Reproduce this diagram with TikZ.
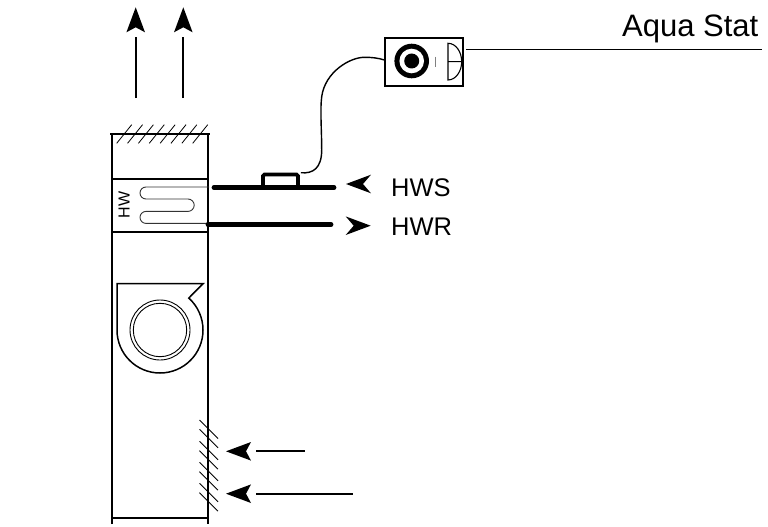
\documentclass[tikz,border=0pt]{standalone}
\usepackage{fontspec}
\setmainfont{Liberation Sans}
\tikzset{
  wall/.style={line width=1.6pt,black},
  hatch/.style={line width=0.8pt,black},
  pipe/.style={line width=4.8pt,black,line cap=round},
  flow/.style={line width=1.8pt,black},
  label/.style={inner sep=0pt,anchor=base west},
  head/.pic={\fill (0,0) -- (25,-9.3) -- (#1,0) -- (25,9.3) -- cycle;},
}
\begin{document}
\begin{tikzpicture}[x=1pt,y=-1pt]
\useasboundingbox (0,0) rectangle (768,527);
% cabinet
\draw[wall] (112,524) -- (112,134) (208,134) -- (208,524);
\draw[wall] (110,134) -- (210,134) (112,179) -- (208,179) (112,232) -- (208,232) (112,517.7) -- (208,517.7);
% top hatching
\foreach \x in {0,...,7}
  \draw[hatch] ({116.7+\x*10.86},143.3) -- ({131.7+\x*10.86},124.7);
% side hatching
\foreach \y in {420,429.3,441.3,450.7,462.3,471.7,483.3,492.7}
  \draw[hatch] (199.5,\y) -- (218,{\y+18.5});
% coil
\node[inner sep=0pt,rotate=90,font=\fontsize{16}{16}\selectfont] (hw) at (124,205) {HW};
\draw[line width=0.9pt,black!80] (209,187) -- (146,187) arc[start angle=-90,end angle=-270,radius=6] -- (188,199) arc[start angle=-90,end angle=90,radius=6.2] -- (146,211.4) arc[start angle=-90,end angle=-270,radius=6] -- (208,223.4);
% fan
\draw[line width=1.5pt,line join=miter] (203,283.7) -- (117,283.7) -- (117,330)
  arc[start angle=180,end angle=0,radius=43]
  arc[start angle=0,end angle=-48,radius=43] -- cycle;
\draw[line width=0.9pt] (160,330) circle[radius=30] circle[radius=26.7];
% water pipes
\coordinate (hwsL) at (214,187.7);
\coordinate (hwsR) at (334,187.7);
\coordinate (hwrL) at (208,224.5);
\coordinate (hwrR) at (331,224.5);
\draw[pipe] (hwsL) -- (hwsR);
\draw[pipe] (hwrL) -- (hwrR);
% sensor strap
\node[draw,line width=3.6pt,rounded corners=1.5pt,minimum width=35pt,minimum height=13pt,inner sep=0pt] (strap) at (280.5,181) {};
% aqua stat
\node[draw,line width=1.5pt,minimum width=78pt,minimum height=48pt,inner sep=0pt] (stat) at (424.2,62) {};
\fill (411.7,61) circle[radius=17.3];
\fill[white] (411.7,61) circle[radius=12.3];
\fill (411.7,61) circle[radius=7.5];
\draw[line width=0.5pt,black!50] (435.3,56.7) -- (435.3,66.7);
\draw[line width=1.1pt] (448,43.3) .. controls (456,43.3) and (461.7,52) .. (461.7,61.7) .. controls (461.7,71) and (456,80) .. (448,80) -- cycle (448,61.7) -- (461.7,61.7);
% capillary
\draw[line width=1.4pt] (strap.north east) ++(1,0) .. controls (313,174) and (321.7,168) .. (321.7,150)
  .. controls (321.7,130) and (320,110) .. (321.7,96.7)
  .. controls (325,72) and (350,57) .. (365,57.3)
  .. controls (372,57.3) and (378,58) .. (stat.west |- 0,60);
% aqua stat leader
\coordinate (aquaEnd) at (762,49.3);
\draw[line width=1.2pt] (466,49.3) -- (aquaEnd);
\node[label,font=\fontsize{31}{31}\selectfont] (aqua) at (622,37) {Aqua Stat};
% water labels and arrows
\node[label,font=\fontsize{25.5}{26}\selectfont] (hws) at (391,196) {HWS};
\node[label,font=\fontsize{25.5}{26}\selectfont] (hwr) at (391,235) {HWR};
\pic at (346,184) {head=17};
\pic[rotate=180] at (370.7,225.7) {head=17};
% air flows
\coordinate (up1a) at (135.7,98);
\coordinate (up1b) at (135.7,37.3);
\coordinate (up2a) at (183.3,98);
\coordinate (up2b) at (183.3,37.3);
\coordinate (in1a) at (304.7,451.3);
\coordinate (in1b) at (255.7,451.3);
\coordinate (in2a) at (352.7,493.7);
\coordinate (in2b) at (255.7,493.7);
\draw[flow] (up1a) -- (up1b);
\draw[flow] (up2a) -- (up2b);
\draw[flow] (in1a) -- (in1b);
\draw[flow] (in2a) -- (in2b);
\pic[rotate=-90] at (135.7,7.3) {head=20};
\pic[rotate=-90] at (183.3,7.3) {head=20};
\pic at (226,451.3) {head=20};
\pic at (226,493.7) {head=20};
\end{tikzpicture}
\end{document}
